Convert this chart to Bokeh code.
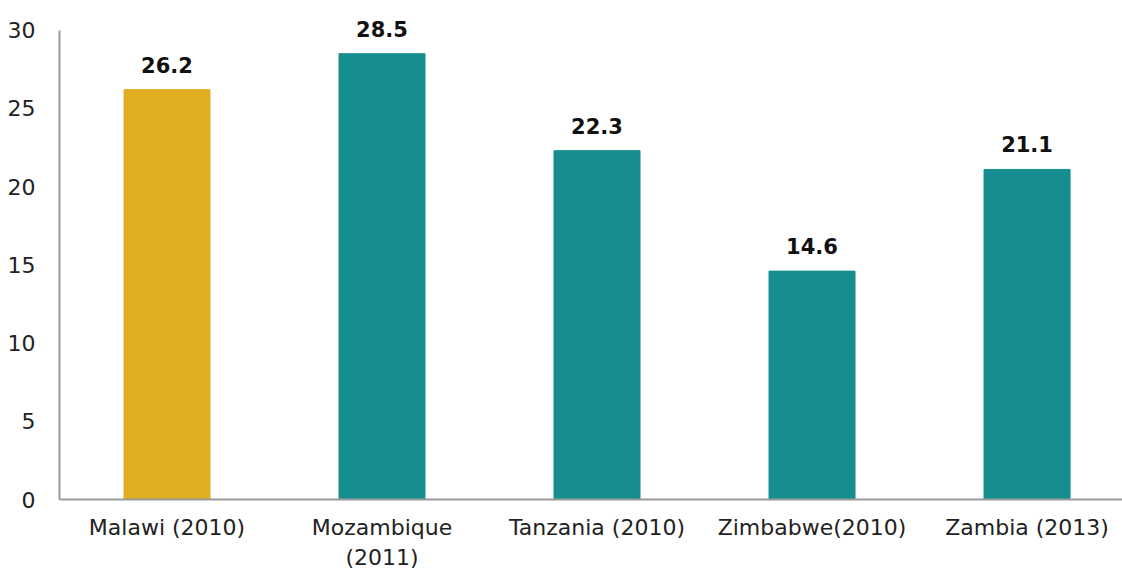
from bokeh.plotting import figure
from bokeh.models import ColumnDataSource, FixedTicker, LabelSet, Range1d
from bokeh.core.properties import value
from bokeh.embed import file_html
from bokeh.resources import INLINE

categories = ["Malawi (2010)", "Mozambique\n(2011)", "Tanzania (2010)", "Zimbabwe(2010)", "Zambia (2013)"]
values = [26.2, 28.5, 22.3, 14.6, 21.1]
colors = ["#E0AE22", "#168E8F", "#168E8F", "#168E8F", "#168E8F"]
y_ticks = [0, 5, 10, 15, 20, 25, 30]

xs = list(range(len(categories)))
src = ColumnDataSource(dict(x=xs, top=values, color=colors,
                            label=[f"{v:.1f}" for v in values]))

p = figure(width=1122, height=572, output_backend="svg", toolbar_location=None,
           x_range=Range1d(-0.5, 4.444), y_range=Range1d(0, 31.9),
           min_border_left=59, min_border_right=0, min_border_top=0, min_border_bottom=72)
p.outline_line_color = None
p.grid.visible = False

p.vbar(x="x", top="top", width=0.4, color="color", source=src)

labels = LabelSet(x="x", y="top", text="label", source=src, text_align="center",
                  text_baseline="alphabetic", y_offset=17, text_font=value("DejaVu Sans"),
                  text_font_style="bold", text_font_size="21px", text_color="#111111")
p.add_layout(labels)

p.xaxis.ticker = FixedTicker(ticks=xs)
p.xaxis.major_label_overrides = {i: c for i, c in enumerate(categories)}
p.yaxis.ticker = FixedTicker(ticks=y_ticks)
p.yaxis.bounds = (0, 30)

for ax in (p.xaxis, p.yaxis):
    ax.axis_line_color = "#999999"
    ax.axis_line_width = 2
    ax.major_tick_line_color = None
    ax.minor_tick_line_color = None
    ax.major_label_text_font = "DejaVu Sans"
    ax.major_label_text_font_size = "22px"
    ax.major_label_text_color = "#222222"
p.yaxis.major_label_standoff = 18
p.xaxis.major_label_standoff = 9

open("out.html", "w").write(file_html(p, INLINE))
